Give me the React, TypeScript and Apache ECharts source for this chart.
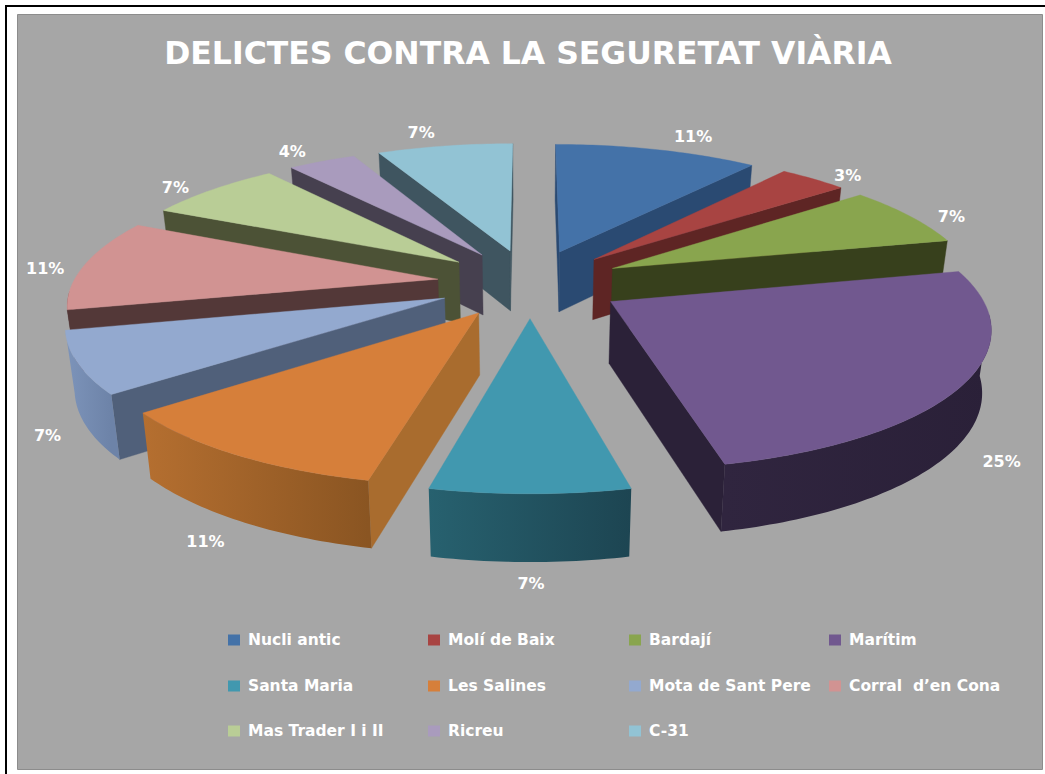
import React, { useEffect, useRef } from "react";
import * as echarts from "echarts";

const categories = ["Nucli antic", "Molí de Baix", "Bardají", "Marítim", "Santa Maria", "Les Salines", "Mota de Sant Pere", "Corral  d’en Cona", "Mas Trader I i II", "Ricreu", "C-31"];
const counts = [3, 1, 2, 7, 2, 3, 2, 3, 2, 1, 2];
const percentLabels = ["11%", "3%", "7%", "25%", "7%", "11%", "7%", "11%", "7%", "4%", "7%"];
const topColors = ["#4472A8", "#A84442", "#89A54E", "#71588F", "#4198AF", "#D67F3A", "#93A9CF", "#D19392", "#B9CD96", "#A99BBD", "#92C3D4"];
const radialColors = ["#2A4A72", "#5E2524", "#37401C", "#2B2138", "#1F4A57", "#A96C2E", "#50607A", "#533838", "#4C5236", "#46404F", "#3F5560"];
const arcLeftColors = ["#2A4A72", "#5E2524", "#37401C", "#30253F", "#27616F", "#B56F30", "#7D94BA", "#533838", "#4C5236", "#46404F", "#3F5560"];
const arcRightColors = ["#2A4A72", "#5E2524", "#37401C", "#2A2038", "#1D4552", "#8A5522", "#6D83A8", "#533838", "#4C5236", "#46404F", "#3F5560"];
const labelNudges = [[29, -1], [18, 8], [19, 10], [15, 6], [1, 4], [-14, 6], [-8, 3], [-11, 11], [-18, 8], [-18, 2], [-19, -1]];

const CX = 530, CY = 283, RX = 365, RY = 134, PERSPECTIVE = 0.161, EXPLODE = 0.255, DEPTH = 61;
const total = counts.reduce((a, b) => a + b, 0);
const rad = (d: number) => (d * Math.PI) / 180;
const startAngle = (i: number) => (counts.slice(0, i).reduce((a, b) => a + b, 0) / total) * 360;
const endAngle = (i: number) => startAngle(i + 1);
const midAngle = (i: number) => (startAngle(i) + endAngle(i)) / 2;

function project(i: number, theta: number, r: number, z: number): [number, number] {
  const m = rad(midAngle(i));
  const X = EXPLODE * Math.sin(m) + r * Math.sin(rad(theta));
  const Y = EXPLODE * Math.cos(m) + r * Math.cos(rad(theta));
  const s = 1 / (1 + PERSPECTIVE * Y);
  const shrink = 1 - 0.02 * (z / DEPTH);
  return [CX + RX * X * s * shrink, CY - RY * Y * s + z * Math.sqrt(s)];
}

function arcPoints(i: number, a: number, b: number, z: number) {
  const pts: [number, number][] = [];
  const steps = Math.max(2, Math.ceil(b - a));
  for (let k = 0; k <= steps; k++) pts.push(project(i, a + ((b - a) * k) / steps, 1, z));
  return pts;
}

function renderSlice(i: number) {
  const a = startAngle(i), b = endAngle(i);
  const children: any[] = [];
  const poly = (points: [number, number][], fill: any) => ({ type: "polygon", shape: { points }, style: { fill, stroke: typeof fill === "string" ? fill : undefined, lineWidth: 0.4 } });
  const apexTop = project(i, 0, 0, 0), apexBot = project(i, 0, 0, DEPTH);
  const inner = project(i, midAngle(i), 0.5, 0);
  [a, b].forEach((t) => {
    const outer = project(i, t, 1, 0);
    const ex = outer[0] - apexTop[0], ey = outer[1] - apexTop[1];
    const sideInner = ex * (inner[1] - apexTop[1]) - ey * (inner[0] - apexTop[0]);
    const sideWall = ex * DEPTH;
    if (sideInner * sideWall < 0) {
      children.push(poly([apexTop, outer, project(i, t, 1, DEPTH), apexBot], radialColors[i]));
    }
  });
  const fa = Math.max(a, 95), fb = Math.min(b, 265);
  if (fb > fa) {
    const upper = arcPoints(i, fa, fb, 0);
    const lower = arcPoints(i, fa, fb, DEPTH).reverse();
    const xs = upper.map((p) => p[0]);
    children.push(poly([...upper, ...lower], new echarts.graphic.LinearGradient(Math.min(...xs), 0, Math.max(...xs), 0, [
      { offset: 0, color: arcLeftColors[i] },
      { offset: 1, color: arcRightColors[i] },
    ], true)));
  }
  children.push(poly([apexTop, ...arcPoints(i, a, b, 0)], topColors[i]));
  return { type: "group", children };
}

const labelFont = "bold 16px 'DejaVu Sans'";
const labelRadius = 1.08;
function renderLabel(i: number) {
  const t = midAngle(i);
  const [x, y] = project(i, t, labelRadius, Math.cos(rad(t)) < 0 ? DEPTH : -6);
  return { type: "text", silent: true, style: { x: x + labelNudges[i][0], y: y + labelNudges[i][1], text: percentLabels[i], fill: "#fff", font: labelFont, align: "center", verticalAlign: "middle" } };
}

const legendCols = [228, 428, 629, 829];
const legendRows = [632, 678, 723];

export default function App() {
  const ref = useRef<HTMLDivElement>(null);
  useEffect(() => {
    document.body.style.margin = "0";
    const chart = echarts.init(ref.current!, undefined, { renderer: "svg" });
    const depthOrder = categories.map((_, i) => i).sort((p, q) => Math.cos(rad(midAngle(q))) - Math.cos(rad(midAngle(p))));
    chart.setOption({
      animation: false,
      backgroundColor: "#fff",
      title: {
        text: "DELICTES CONTRA LA SEGURETAT VIÀRIA",
        left: 523,
        top: 32,
        textAlign: "center",
        textStyle: { color: "#fff", fontFamily: "DejaVu Sans", fontWeight: "bold", fontSize: 31.5 },
      },
      legend: categories.map((name, i) => ({
        data: [name],
        left: legendCols[i % 4],
        top: legendRows[Math.floor(i / 4)],
        padding: 0,
        icon: "rect",
        itemWidth: 12,
        itemHeight: 11,
        itemGap: 0,
        selectedMode: false,
        textStyle: { color: "#fff", fontFamily: "DejaVu Sans", fontWeight: "bold", fontSize: 15.5, padding: [4, 0, 0, 3] },
      })),
      graphic: {
        elements: [
          { type: "line", z: -10, silent: true, shape: { x1: 6, y1: 6, x2: 1045, y2: 6 }, style: { stroke: "#000", lineWidth: 2 } },
          { type: "line", z: -10, silent: true, shape: { x1: 6, y1: 5, x2: 6, y2: 774 }, style: { stroke: "#000", lineWidth: 2 } },
          { type: "rect", z: -9, silent: true, shape: { x: 17.5, y: 14.5, width: 1025, height: 755 }, style: { fill: "#A6A6A6", stroke: "#8c8c8c", lineWidth: 1 } },
        ],
      },
      series: [
        ...categories.map((name, i) => ({
          type: "custom",
          name,
          coordinateSystem: "none",
          z: 2 + depthOrder.indexOf(i),
          itemStyle: { color: topColors[i] },
          data: [counts[i]],
          renderItem: () => renderSlice(i),
        })),
        {
          type: "custom",
          name: "labels",
          coordinateSystem: "none",
          z: 30,
          data: counts,
          renderItem: (p: any) => renderLabel(p.dataIndex),
        },
      ],
    });
    return () => chart.dispose();
  }, []);
  return <div ref={ref} style={{ width: 1045, height: 774 }} />;
}
